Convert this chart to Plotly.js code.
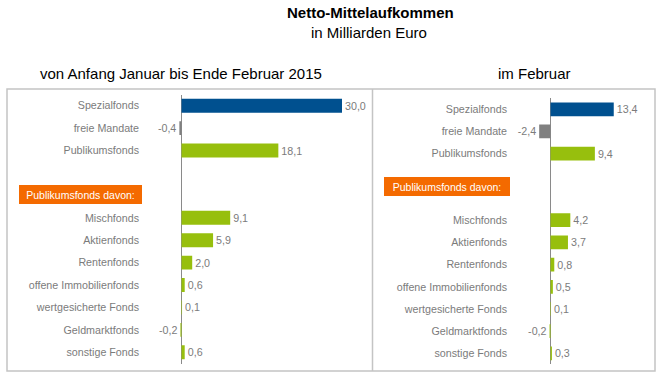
<!DOCTYPE html>
<html>
<head>
<meta charset="utf-8">
<script src="https://cdn.plot.ly/plotly-3.0.1.min.js"></script>
<style>html,body{margin:0;padding:0;background:#fff;}#chart{width:665px;height:376px;}</style>
</head>
<body>
<div id="chart"></div>
<script>
// ---- data ----
const categories = ['Spezialfonds', 'freie Mandate', 'Publikumsfonds', 'Mischfonds', 'Aktienfonds',
  'Rentenfonds', 'offene Immobilienfonds', 'wertgesicherte Fonds', 'Geldmarktfonds', 'sonstige Fonds'];
const ytdValues = [30.0, -0.4, 18.1, 9.1, 5.9, 2.0, 0.6, 0.1, -0.2, 0.6];   // von Anfang Januar bis Ende Februar 2015
const febValues = [13.4, -2.4, 9.4, 4.2, 3.7, 0.8, 0.5, 0.1, -0.2, 0.3];    // im Februar
const groupLabel = 'Publikumsfonds davon:';
const titleText = 'Netto-Mittelaufkommen';
const subtitleText = 'in Milliarden Euro';
const leftHeading = 'von Anfang Januar bis Ende Februar 2015';
const rightHeading = 'im Februar';

// ---- styling ----
const FONT = 'Liberation Sans, Arial, sans-serif';
const GRAY_TXT = '#7b7b7b';
const colorFor = c => c === 'Spezialfonds' ? '#00508f' : (c === 'freie Mandate' ? '#808080' : '#97bf0d');
const colors = categories.map(colorFor);
const fmt = v => v.toFixed(1).replace('.', ',');

// slot order: first three, two empty slots, then the breakdown
const slotOrder = categories.slice(0, 3).concat([' ', '  ']).concat(categories.slice(3));
const slotText = slotOrder.map(s => s.trim());

const W = 665, H = 376;
const px = x => x / W;
const py = y => 1 - y / H;

function barTrace(values, xa, ya) {
  return {
    type: 'bar', orientation: 'h',
    x: values, y: categories,
    xaxis: xa, yaxis: ya,
    marker: {color: colors, line: {width: 0}},
    width: 0.62,
    text: values.map(fmt),
    textposition: 'outside',
    textfont: {family: FONT, size: 10.7, color: GRAY_TXT},
    cliponaxis: false,
    constraintext: 'none',
    hoverinfo: 'skip',
    showlegend: false
  };
}

const yCommon = {
  type: 'category', categoryarray: slotOrder, categoryorder: 'array',
  range: [slotOrder.length - 0.5, -0.5],
  tickvals: slotOrder, ticktext: slotText,
  showgrid: false, zeroline: false, showline: false, ticks: '',
  ticklabelstandoff: 2,
  tickfont: {family: FONT, size: 10.7, color: GRAY_TXT},
  fixedrange: true
};

const layout = {
  width: W, height: H,
  margin: {l: 0, r: 0, t: 0, b: 0},
  paper_bgcolor: '#ffffff', plot_bgcolor: 'rgba(0,0,0,0)',
  font: {family: FONT},
  bargap: 0.38,
  xaxis: {domain: [px(142), px(365)], range: [-(181.5 - 142) / 5.35, (365 - 181.5) / 5.35],
    showgrid: false, showticklabels: false, ticks: '', zeroline: true, zerolinecolor: '#8a8a8a', zerolinewidth: 1, anchor: 'y'},
  yaxis: Object.assign({}, yCommon, {domain: [py(363.5), py(94.5)], anchor: 'x'}),
  xaxis2: {domain: [px(510), px(650)], range: [-(550.5 - 510) / 4.72, (650 - 550.5) / 4.72],
    showgrid: false, showticklabels: false, ticks: '', zeroline: true, zerolinecolor: '#8a8a8a', zerolinewidth: 1, anchor: 'y2'},
  yaxis2: Object.assign({}, yCommon, {domain: [py(364.4), py(98.2)], anchor: 'x2'}),
  shapes: [
    {type: 'rect', xref: 'paper', yref: 'paper', x0: px(7), x1: px(655), y0: py(371), y1: py(89),
      line: {color: '#c4c4c4', width: 1.5}, fillcolor: 'rgba(0,0,0,0)', layer: 'below'},
    {type: 'line', xref: 'paper', yref: 'paper', x0: px(372.5), x1: px(372.5), y0: py(371), y1: py(89),
      line: {color: '#c4c4c4', width: 1.5}, layer: 'below'}
  ],
  annotations: [
    {text: '<b>' + titleText + '</b>', xref: 'paper', yref: 'paper', x: px(370), y: py(12.7),
      xanchor: 'center', yanchor: 'middle', showarrow: false, font: {family: FONT, size: 15, color: '#000'}},
    {text: subtitleText, xref: 'paper', yref: 'paper', x: px(369), y: py(32.5),
      xanchor: 'center', yanchor: 'middle', showarrow: false, font: {family: FONT, size: 15, color: '#000'}},
    {text: leftHeading, xref: 'paper', yref: 'paper', x: px(181), y: py(74),
      xanchor: 'center', yanchor: 'middle', showarrow: false, font: {family: FONT, size: 15, color: '#000'}},
    {text: rightHeading, xref: 'paper', yref: 'paper', x: px(534.5), y: py(74),
      xanchor: 'center', yanchor: 'middle', showarrow: false, font: {family: FONT, size: 15, color: '#000'}},
    {text: groupLabel, xref: 'paper', yref: 'paper', x: px(80.5), y: py(194.5),
      xanchor: 'center', yanchor: 'middle', showarrow: false, width: 123, height: 19,
      bgcolor: '#f46a00', borderpad: 0, borderwidth: 0, font: {family: FONT, size: 10.5, color: '#ffffff'}},
    {text: groupLabel, xref: 'paper', yref: 'paper', x: px(447), y: py(186.3),
      xanchor: 'center', yanchor: 'middle', showarrow: false, width: 126, height: 19,
      bgcolor: '#f46a00', borderpad: 0, borderwidth: 0, font: {family: FONT, size: 10.5, color: '#ffffff'}}
  ]
};

Plotly.newPlot('chart', [barTrace(ytdValues, 'x', 'y'), barTrace(febValues, 'x2', 'y2')], layout,
  {staticPlot: true, displayModeBar: false});
</script>
</body>
</html>
